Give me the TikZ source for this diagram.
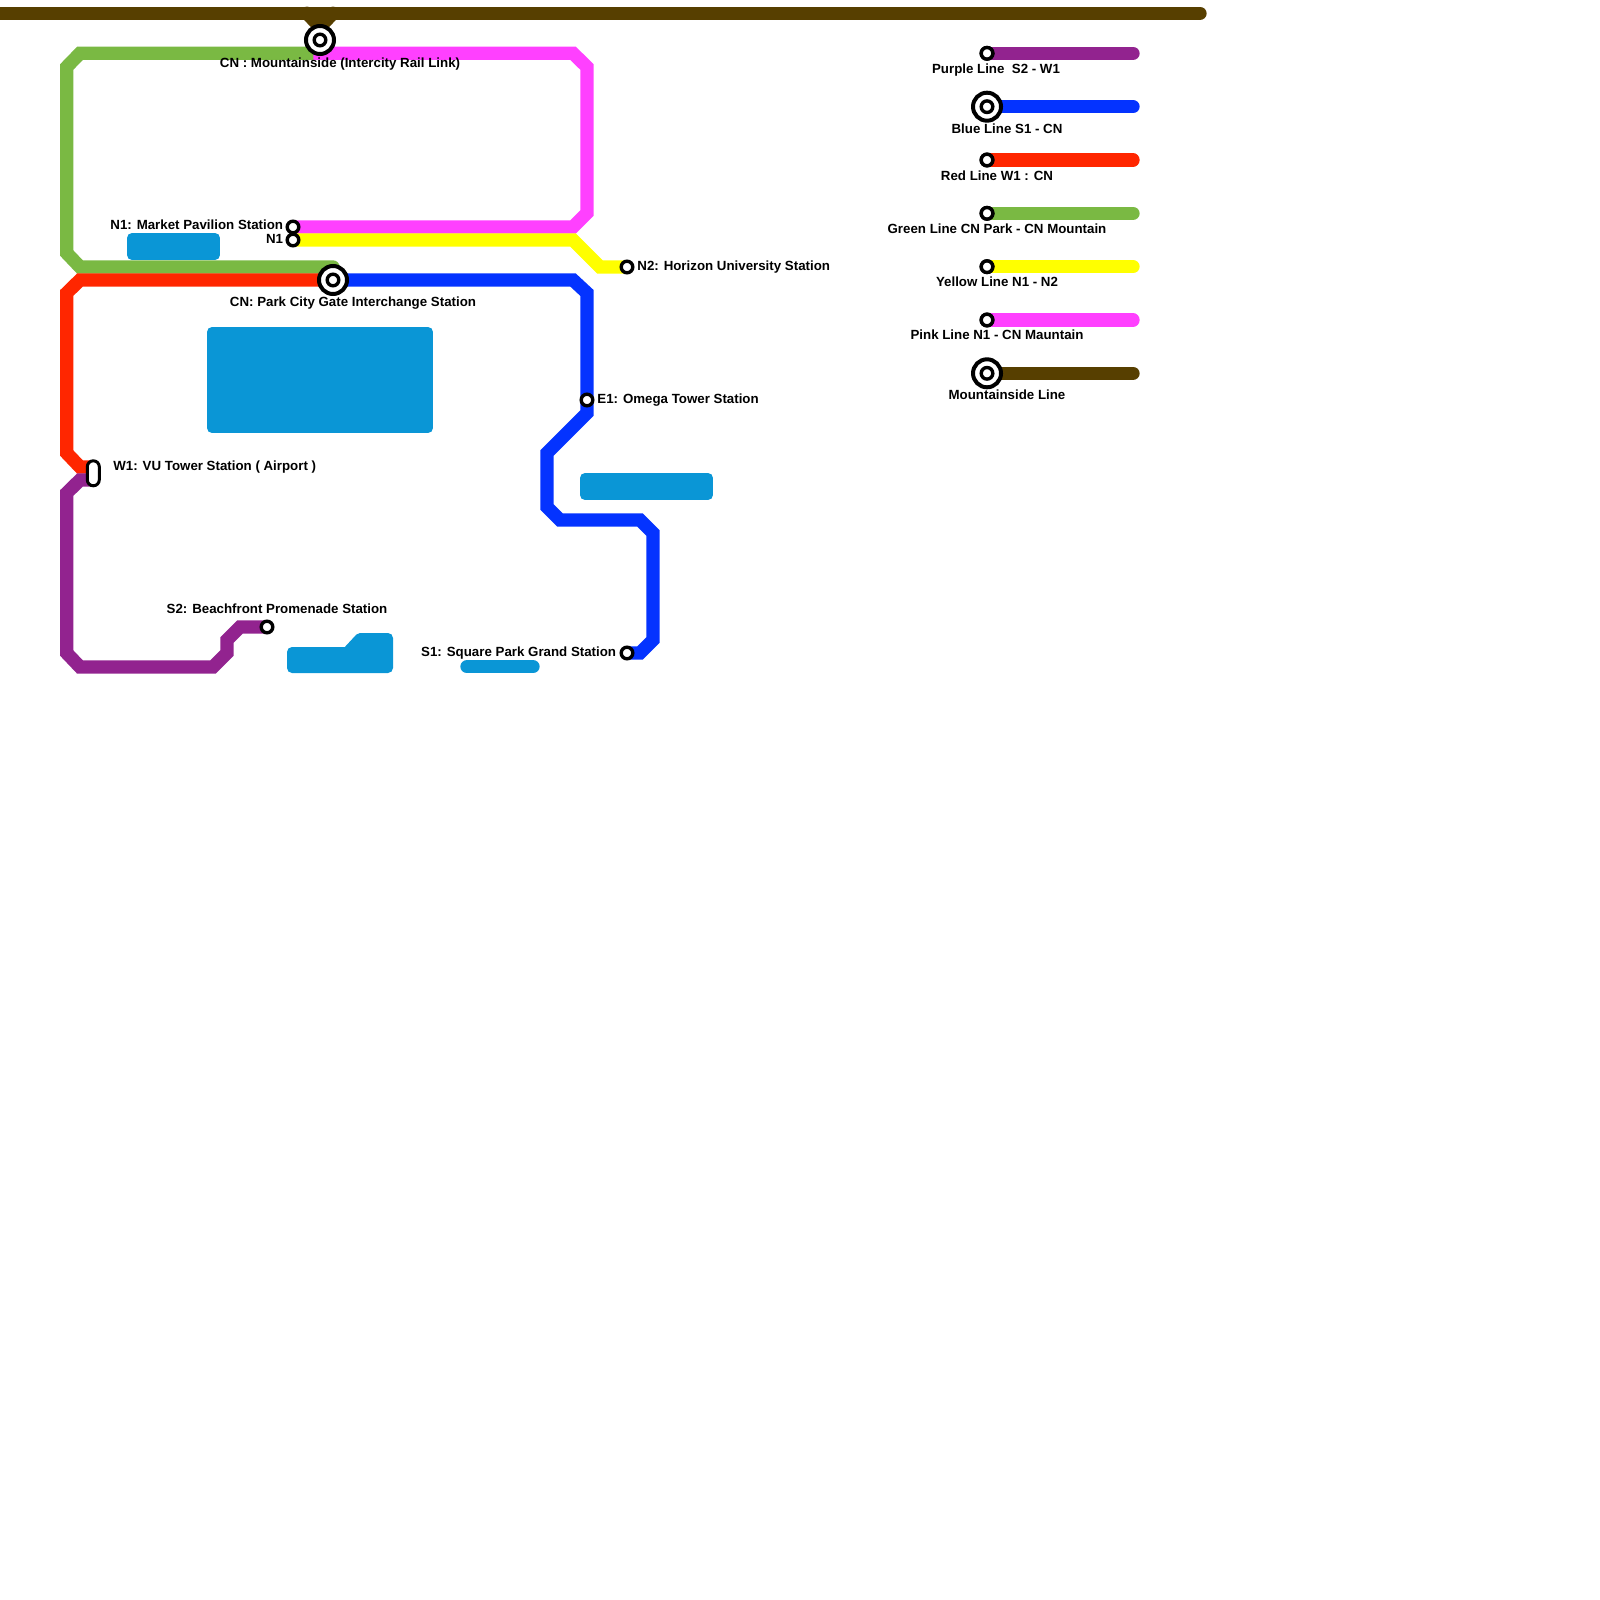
\documentclass[tikz,border=0pt]{standalone}
\usepackage{fontspec}
\setmainfont{Liberation Sans}
\usetikzlibrary{backgrounds}
\definecolor{linepurple}{HTML}{92238F}
\definecolor{lineblue}{HTML}{0433FF}
\definecolor{linered}{HTML}{FF2600}
\definecolor{linegreen}{HTML}{7AB943}
\definecolor{lineyellow}{HTML}{FFFF00}
\definecolor{linepink}{HTML}{FF40FF}
\definecolor{linebrown}{HTML}{573F00}
\definecolor{water}{HTML}{0A96D6}
\tikzset{
  metro/.style={line width=6.67pt, line cap=round},
  pool/.style={fill=water, draw=water, line width=5pt, line join=round},
  station/.style={circle, draw=black, fill=white, line width=1.7pt, minimum size=5.8pt, inner sep=0pt},
  interchange/.style={circle, draw=black, fill=white, line width=2pt, minimum size=14pt, inner sep=0pt},
  airport/.style={rounded corners=3pt, draw=black, fill=white, line width=1.5pt, minimum width=6pt, minimum height=12.5pt, inner sep=0pt},
  tag/.style={font=\fontsize{6.65}{7.5}\selectfont\bfseries, inner sep=0pt, text=black, yshift=-0.7pt},
}

\begin{document}
\begin{tikzpicture}[x=0.5pt, y=-0.5pt]
  \useasboundingbox (0,0) rectangle (1600,1600);
  % Water
  \fill[pool] (212,332) rectangle (428,428);
  \fill[pool] (132,238) rectangle (215,255);
  \fill[pool] (585,478) rectangle (708,495);
  \draw[metro, water] (467,666.7) -- (533,666.7);
  \fill[pool] (292,652) -- (347,652) -- (360,638) -- (388,638) -- (388,668) -- (292,668) -- cycle;
  % Stations
  \node[interchange] (cnmount) at (320,40) {};
  \node[station] (cnmountin) at (cnmount) {};
  \node[interchange] (cnpark) at (333,280) {};
  \node[station] (cnparkin) at (cnpark) {};
  \node[station] (market) at (293,227) {};
  \node[station] (north) at (293,240) {};
  \node[station] (horizon) at (627,267) {};
  \node[station] (omega) at (587,400) {};
  \node[station] (square) at (627,653) {};
  \node[station] (beach) at (267,627) {};
  \node[airport] (tower) at (93.3,473.3) {};
  \coordinate (towerred) at (93,467);
  \coordinate (towerpurple) at (93,480);
  \coordinate (brownwest) at (-10,13.3);
  \coordinate (browneast) at (1200,13.3);
  % Lines
  \begin{scope}[on background layer]
    \draw[metro, linebrown] (brownwest) -- (browneast);
    \draw[metro, linebrown] (307,13.3) -- (320,27) -- (333,13.3);
    \draw[metro, linegreen] (cnmount.center) |- (320,53.3) -- (80,53.3) -- (66.7,67) -- (66.7,253) -- (80,267) -- (333,267);
    \draw[metro, linepink] (cnmount.center) |- (333,53.3) -- (573,53.3) -- (587,67) -- (587,213) -- (573,227) -- (market.center);
    \draw[metro, lineyellow] (north.center) -- (573,240) -- (600,267) -- (horizon.center);
    \draw[metro, linered] (cnpark.center) -- (80,280) -- (66.7,293) -- (66.7,453) -- (80,467) -- (towerred);
    \draw[metro, lineblue] (cnpark.center) -- (573,280) -- (587,293) -- (omega.center) -- (587,413) -- (547,453) -- (547,507) -- (560,520) -- (640,520) -- (653,533) -- (653,640) -- (640,653) -- (square.center);
    \draw[metro, linepurple] (towerpurple) -- (80,480) -- (66.7,493) -- (66.7,653) -- (80,667) -- (213,667) -- (227,653) -- (227,640) -- (240,627) -- (beach.center);
  \end{scope}
  % Station names
  \node[tag] (cnmountname) at (340,62.5) {CN : Mountainside (Intercity Rail Link)};
  \node[tag, anchor=east] (marketname) at (283.5,223.5) {N1: Market Pavilion Station};
  \node[tag, anchor=east] (northname) at (283.5,238) {N1};
  \node[tag] (cnparkname) at (353,302) {CN: Park City Gate Interchange Station};
  \node[tag, anchor=west] (towername) at (113,466) {W1: VU Tower Station ( Airport )};
  \node[tag] (beachname) at (277,607) {S2: Beachfront Promenade Station};
  \node[tag, anchor=west] (horizonname) at (637,266) {N2: Horizon University Station};
  \node[tag, anchor=west] (omeganame) at (597,399) {E1: Omega Tower Station};
  \node[tag, anchor=east] (squarename) at (616.5,652) {S1: Square Park Grand Station};
  % Legend
  \foreach \keyname/\keycol/\keyy/\keystyle in {purplekey/linepurple/53.3/station, bluekey/lineblue/106.7/interchange, redkey/linered/160/station, greenkey/linegreen/213.3/station, yellowkey/lineyellow/266.7/station, pinkkey/linepink/320/station, brownkey/linebrown/373.3/interchange}{
    \node[\keystyle] (\keyname) at (987,\keyy) {};
    \node[station] (\keyname in) at (\keyname) {};
    \coordinate (\keyname end) at (1133,\keyy);
    \begin{scope}[on background layer]
      \draw[metro, \keycol] (\keyname.center) -- (\keyname end);
    \end{scope}
  }
  \node[tag] (purplename) at (996,68.5) {Purple Line\ \ S2 - W1};
  \node[tag] (bluename) at (1007,127) {Blue Line S1 - CN};
  \node[tag] (redname) at (997,174) {Red Line W1 : CN};
  \node[tag] (greenname) at (997,227) {Green Line CN Park - CN Mountain};
  \node[tag] (yellowname) at (997,280.5) {Yellow Line N1 - N2};
  \node[tag] (pinkname) at (997,333.5) {Pink Line N1 - CN Mauntain};
  \node[tag] (brownname) at (1007,393.5) {Mountainside Line};
\end{tikzpicture}
\end{document}
